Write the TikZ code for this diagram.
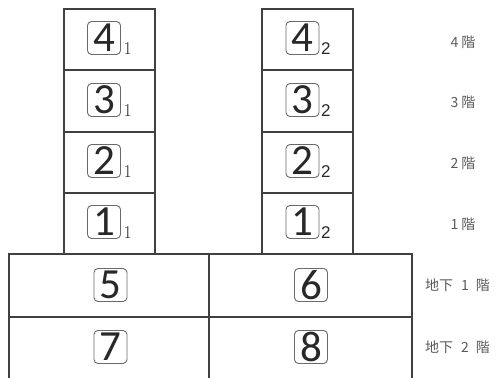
\documentclass[tikz,border=0pt]{standalone}
\usepackage{fontspec}
\usetikzlibrary{calc}
\newfontfamily\digitfont{Carlito}
\newfontfamily\subfont{Liberation Sans}
\newfontfamily\jpfont{Noto Sans CJK JP}
\definecolor{frame}{HTML}{404040}
\definecolor{boxc}{HTML}{6A6A6A}
\definecolor{labc}{HTML}{5A5A5A}
\definecolor{digc}{HTML}{282828}
\begin{document}
\begin{tikzpicture}[x=1pt,y=-1pt,
  wall/.style={draw=frame,line width=1.1pt},
  numbox/.style={draw=boxc,line width=0.9pt,rounded corners=4pt,minimum width=33pt,minimum height=33pt,inner sep=0pt,text=digc,font=\digitfont\fontsize{43}{43}\selectfont},
  subl/.style={anchor=base west,inner sep=0pt,text=digc,font=\fontsize{18}{18}\selectfont},
  subr/.style={anchor=base west,inner sep=0pt,text=digc,font=\subfont\fontsize{17}{17}\selectfont},
  floorlab/.style={text=labc,inner sep=0pt,font=\jpfont\fontsize{14}{14}\selectfont}]
\useasboundingbox (0,0) rectangle (496,378);
% left tower
\draw[wall] (64,254) -- (64,9) -- (155,9) -- (155,254);
\draw[wall] (64,70) -- (155,70) (64,132) -- (155,132) (64,193) -- (155,193);
% right tower
\draw[wall] (262,254) -- (262,9) -- (353,9) -- (353,254);
\draw[wall] (262,70) -- (353,70) (262,132) -- (353,132) (262,193) -- (353,193);
% basement
\draw[wall] (9,378) -- (9,254) -- (412,254) -- (412,378);
\draw[wall] (9,317) -- (412,317);
\draw[wall] (209,254) -- (209,378);
% left tower numbers
\node[numbox] (a4) at (104,38) {4};
\node[numbox] (a3) at (104,100) {3};
\node[numbox] (a2) at (104,161) {2};
\node[numbox] (a1) at (104,222) {1};
\foreach \n in {a4,a3,a2,a1}{\node[subl] (s\n) at ($(\n.south east)+(2.5,0)$) {1};}
% right tower numbers
\node[numbox] (b4) at (302.5,38) {4};
\node[numbox] (b3) at (302.5,100) {3};
\node[numbox] (b2) at (302.5,161) {2};
\node[numbox] (b1) at (302.5,222) {1};
\foreach \n in {b4,b3,b2,b1}{\node[subr] (s\n) at ($(\n.south east)+(1.5,0)$) {2};}
% basement numbers
\node[numbox] (c5) at (110.5,285) {5};
\node[numbox] (c6) at (311,285) {6};
\node[numbox] (c7) at (110.5,347) {7};
\node[numbox] (c8) at (311,347) {8};
% floor labels
\node[floorlab] (f4) at (463,42) {4\hspace{3pt}階};
\node[floorlab] (f3) at (463,102) {3\hspace{3pt}階};
\node[floorlab] (f2) at (463,163) {2\hspace{3pt}階};
\node[floorlab] (f1) at (463,224) {1\hspace{3pt}階};
\node[floorlab] (fb1) at (457.5,285) {地下\hspace{8pt}1\hspace{7pt}階};
\node[floorlab] (fb2) at (457.5,347) {地下\hspace{8pt}2\hspace{7pt}階};
\end{tikzpicture}
\end{document}
